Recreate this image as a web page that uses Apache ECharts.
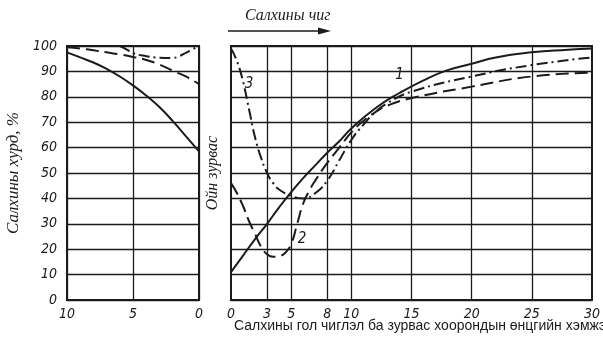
<!DOCTYPE html>
<html>
<head>
<meta charset="utf-8">
<script src="https://cdn.jsdelivr.net/npm/echarts@6/dist/echarts.min.js"></script>
<style>
  html, body { margin: 0; padding: 0; background: #fff; }
  #chart { width: 603px; height: 339px; }
</style>
</head>
<body>
<div id="chart"></div>
<script>
// Left panel: distance scale (reversed, 10 → 0)
const leftX = [10, 9, 8, 7, 6, 5, 4, 3, 2, 1, 0];
const leftSolid = [97.5, 95.5, 93.5, 91, 88, 84.5, 80.5, 76, 70.5, 64.5, 58.5];
const leftDashed = [99.5, 99, 98.3, 97.5, 96.7, 95.7, 94.5, 92.7, 90.3, 88, 85];
const leftDashDotX = [6, 5.5, 5, 4, 3, 2, 1.5, 1, 0.5, 0];
const leftDashDot = [100, 98.7, 97.2, 96, 95.4, 95.3, 96, 97.3, 98.7, 100];

// Right panel: angle between main wind direction and the strip
const rightTicks = [0, 3, 5, 8, 10, 15, 20, 25, 30];
const curve1X = [0, 1, 2, 3, 4, 5, 6, 7, 8, 9, 10, 12, 14, 16, 18, 20, 22, 25, 28, 30];
const curve1Y = [11, 17.5, 24, 30, 36.5, 42.5, 48, 53, 58, 62.5, 67.5, 75.5, 81.5, 86.5, 90.5, 93, 95.5, 97.5, 98.5, 99];
const curve2X = [0, 0.5, 1, 1.5, 2, 2.5, 3, 3.5, 4, 4.5, 5, 5.5, 6, 6.5, 7, 8, 9, 10, 11, 12, 13, 15, 20, 25, 30];
const curve2Y = [46, 42, 37, 31, 26, 21, 18, 17, 17.3, 18.5, 22, 30, 38, 43, 47, 54, 60, 66, 70.5, 74, 76.5, 79.5, 84, 88, 89.5];
const curve3X = [0, 0.5, 1, 1.5, 2, 2.5, 3, 3.5, 4, 5, 6, 7, 8, 9, 10, 11, 12, 13, 15, 20, 25, 30];
const curve3Y = [99, 94, 86, 75, 64, 56, 50, 46, 43.5, 41, 40, 42, 47, 55, 63, 69, 74, 77.5, 82, 88, 92.5, 95.5];

const ink = '#1b1b1b';
const tickFont = {
  fontFamily: 'Liberation Sans Narrow, DejaVu Sans Condensed, sans-serif',
  fontStyle: 'italic',
  fontSize: 14,
  color: ink
};
const serifItalic = 'Liberation Serif, DejaVu Serif, serif';

const zip = (xs, ys) => xs.map((x, i) => [x, ys[i]]);

const solidStyle = { color: ink, width: 2, type: 'solid' };
const dashedStyle = { color: ink, width: 2, type: [13, 6] };
const dashDotStyle = { color: ink, width: 2, type: [11, 4, 2, 4] };

function curveLabel(text, coord) {
  return {
    silent: true,
    symbol: 'circle',
    symbolSize: 0,
    data: [{ coord: coord }],
    label: {
      show: true, position: 'inside', formatter: text,
      fontFamily: tickFont.fontFamily, fontStyle: 'italic', fontSize: 15, color: ink
    }
  };
}

const chart = echarts.init(document.getElementById('chart'), null, { renderer: 'canvas' });

chart.setOption({
  animation: false,
  backgroundColor: '#ffffff',
  grid: [
    { left: 67, top: 46, width: 132, height: 254, show: true, borderColor: ink, borderWidth: 2, backgroundColor: 'transparent' },
    { left: 231, top: 46, width: 370, height: 254, show: true, borderColor: ink, borderWidth: 2, backgroundColor: 'transparent' }
  ],
  xAxis: [
    {
      gridIndex: 0, type: 'value', min: 0, max: 10, interval: 5, inverse: true,
      axisLine: { show: false }, axisTick: { show: false },
      axisLabel: Object.assign({ margin: 7 }, tickFont),
      splitLine: { show: true, lineStyle: { color: ink, width: 1.3 } }
    },
    {
      gridIndex: 1, type: 'value', min: 0, max: 30,
      axisLine: { show: false }, axisTick: { show: false },
      axisLabel: Object.assign({ margin: 7, customValues: rightTicks }, tickFont),
      splitLine: { show: false }
    }
  ],
  yAxis: [
    {
      gridIndex: 0, type: 'value', min: 0, max: 100, interval: 10,
      axisLine: { show: false }, axisTick: { show: false },
      axisLabel: Object.assign({ margin: 10 }, tickFont),
      splitLine: { show: true, lineStyle: { color: ink, width: 1.3 } },
      name: 'Салхины хурд, %', nameLocation: 'middle', nameRotate: 90, nameGap: 45,
      nameTextStyle: { fontFamily: serifItalic, fontStyle: 'italic', fontSize: 17, color: ink }
    },
    {
      gridIndex: 1, type: 'value', min: 0, max: 100, interval: 10,
      axisLine: { show: false }, axisTick: { show: false },
      axisLabel: { show: false },
      splitLine: { show: true, lineStyle: { color: ink, width: 1.3 } },
      name: 'Ойн зурвас', nameLocation: 'middle', nameRotate: 90, nameGap: 10,
      nameTextStyle: { fontFamily: serifItalic, fontStyle: 'italic', fontSize: 16, color: ink }
    }
  ],
  series: [
    { type: 'line', xAxisIndex: 0, yAxisIndex: 0, data: zip(leftX, leftSolid), smooth: true, symbol: 'none', lineStyle: solidStyle },
    { type: 'line', xAxisIndex: 0, yAxisIndex: 0, data: zip(leftX, leftDashed), smooth: true, symbol: 'none', lineStyle: dashedStyle },
    { type: 'line', xAxisIndex: 0, yAxisIndex: 0, data: zip(leftDashDotX, leftDashDot), smooth: true, symbol: 'none', lineStyle: dashDotStyle },
    {
      type: 'line', xAxisIndex: 1, yAxisIndex: 1, data: zip(curve1X, curve1Y), smooth: true, symbol: 'none', lineStyle: solidStyle,
      markLine: {
        silent: true, symbol: 'none', label: { show: false },
        lineStyle: { color: ink, width: 1.3, type: 'solid' },
        data: rightTicks.slice(1, -1).map(v => ({ xAxis: v }))
      },
      markPoint: curveLabel('1', [14, 88.5])
    },
    {
      type: 'line', xAxisIndex: 1, yAxisIndex: 1, data: zip(curve2X, curve2Y), smooth: true, symbol: 'none', lineStyle: dashedStyle,
      markPoint: curveLabel('2', [5.9, 24])
    },
    {
      type: 'line', xAxisIndex: 1, yAxisIndex: 1, data: zip(curve3X, curve3Y), smooth: true, symbol: 'none', lineStyle: dashDotStyle,
      markPoint: curveLabel('3', [1.5, 85])
    }
  ],
  graphic: [
    {
      type: 'text', left: 245, top: 8,
      style: { text: 'Салхины чиг', fontFamily: serifItalic, fontStyle: 'italic', fontSize: 16, fill: ink }
    },
    {
      type: 'line', shape: { x1: 228, y1: 31, x2: 322, y2: 31 },
      style: { stroke: ink, lineWidth: 1.6 }
    },
    {
      type: 'polygon', shape: { points: [[318, 27.5], [331, 31], [318, 34.5]] },
      style: { fill: ink }
    },
    {
      type: 'text', left: 234, top: 319,
      style: { text: 'Салхины гол чиглэл ба зурвас хоорондын өнцгийн хэмжээ', fontFamily: 'Liberation Sans, Arial, sans-serif', fontSize: 14, fill: ink }
    }
  ]
});
</script>
</body>
</html>
